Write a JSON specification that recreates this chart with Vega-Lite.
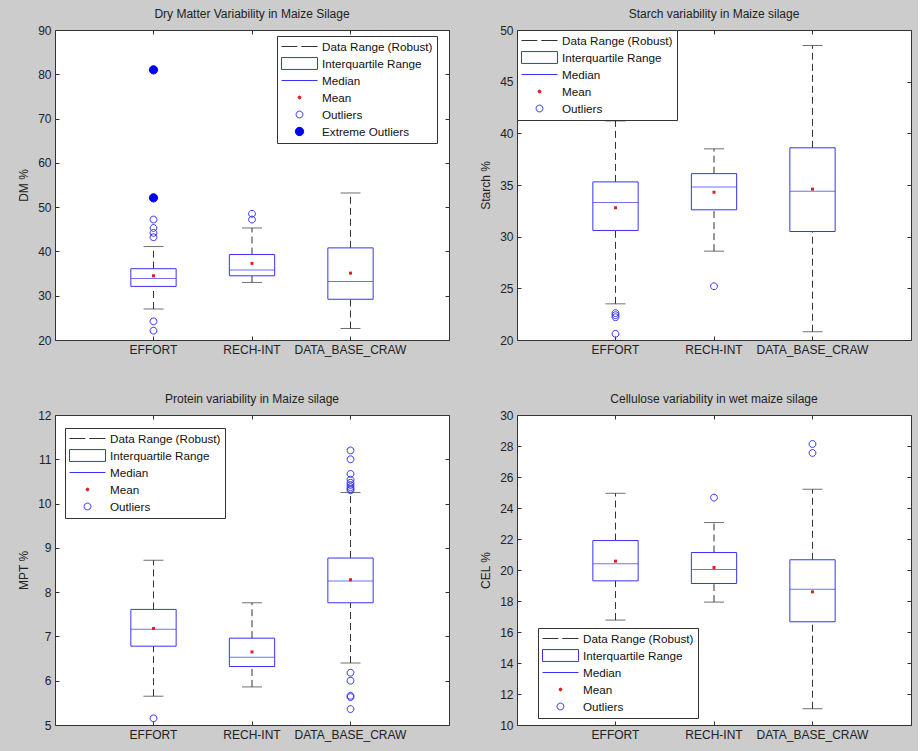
{
  "$schema": "https://vega.github.io/schema/vega-lite/v6.json",
  "background": "#cccccc",
  "padding": {"left": 17, "top": 7, "right": 6, "bottom": 12},
  "datasets": {
    "dm_stats": [
      {"group": "EFFORT", "lo": 27.0, "q1": 32.1, "med": 33.9, "q3": 36.1, "hi": 41.1, "mean": 34.5},
      {"group": "RECH-INT", "lo": 33.0, "q1": 34.5, "med": 35.8, "q3": 39.3, "hi": 45.3, "mean": 37.3},
      {"group": "DATA_BASE_CRAW", "lo": 22.6, "q1": 29.2, "med": 33.2, "q3": 40.8, "hi": 53.2, "mean": 35.1}
    ],
    "dm_out": [
      {"group": "EFFORT", "value": 47.2, "kind": "Outliers"},
      {"group": "EFFORT", "value": 45.3, "kind": "Outliers"},
      {"group": "EFFORT", "value": 44.2, "kind": "Outliers"},
      {"group": "EFFORT", "value": 43.2, "kind": "Outliers"},
      {"group": "EFFORT", "value": 24.2, "kind": "Outliers"},
      {"group": "EFFORT", "value": 22.1, "kind": "Outliers"},
      {"group": "EFFORT", "value": 52.1, "kind": "Extreme Outliers"},
      {"group": "EFFORT", "value": 81.0, "kind": "Extreme Outliers"},
      {"group": "RECH-INT", "value": 48.5, "kind": "Outliers"},
      {"group": "RECH-INT", "value": 47.2, "kind": "Outliers"}
    ],
    "st_stats": [
      {"group": "EFFORT", "lo": 23.5, "q1": 30.6, "med": 33.3, "q3": 35.3, "hi": 41.2, "mean": 32.8},
      {"group": "RECH-INT", "lo": 28.6, "q1": 32.6, "med": 34.8, "q3": 36.1, "hi": 38.5, "mean": 34.3},
      {"group": "DATA_BASE_CRAW", "lo": 20.8, "q1": 30.5, "med": 34.4, "q3": 38.6, "hi": 48.5, "mean": 34.6}
    ],
    "st_out": [
      {"group": "EFFORT", "value": 22.6, "kind": "Outliers"},
      {"group": "EFFORT", "value": 22.4, "kind": "Outliers"},
      {"group": "EFFORT", "value": 22.2, "kind": "Outliers"},
      {"group": "EFFORT", "value": 20.6, "kind": "Outliers"},
      {"group": "RECH-INT", "value": 25.2, "kind": "Outliers"}
    ],
    "mpt_stats": [
      {"group": "EFFORT", "lo": 5.65, "q1": 6.78, "med": 7.16, "q3": 7.61, "hi": 8.72, "mean": 7.18},
      {"group": "RECH-INT", "lo": 5.86, "q1": 6.32, "med": 6.53, "q3": 6.96, "hi": 7.76, "mean": 6.65},
      {"group": "DATA_BASE_CRAW", "lo": 6.40, "q1": 7.76, "med": 8.25, "q3": 8.77, "hi": 10.25, "mean": 8.28}
    ],
    "mpt_out": [
      {"group": "EFFORT", "value": 5.15, "kind": "Outliers"},
      {"group": "DATA_BASE_CRAW", "value": 11.2, "kind": "Outliers"},
      {"group": "DATA_BASE_CRAW", "value": 11.0, "kind": "Outliers"},
      {"group": "DATA_BASE_CRAW", "value": 10.67, "kind": "Outliers"},
      {"group": "DATA_BASE_CRAW", "value": 10.54, "kind": "Outliers"},
      {"group": "DATA_BASE_CRAW", "value": 10.47, "kind": "Outliers"},
      {"group": "DATA_BASE_CRAW", "value": 10.42, "kind": "Outliers"},
      {"group": "DATA_BASE_CRAW", "value": 10.37, "kind": "Outliers"},
      {"group": "DATA_BASE_CRAW", "value": 10.33, "kind": "Outliers"},
      {"group": "DATA_BASE_CRAW", "value": 10.3, "kind": "Outliers"},
      {"group": "DATA_BASE_CRAW", "value": 6.18, "kind": "Outliers"},
      {"group": "DATA_BASE_CRAW", "value": 6.0, "kind": "Outliers"},
      {"group": "DATA_BASE_CRAW", "value": 5.66, "kind": "Outliers"},
      {"group": "DATA_BASE_CRAW", "value": 5.63, "kind": "Outliers"},
      {"group": "DATA_BASE_CRAW", "value": 5.36, "kind": "Outliers"}
    ],
    "cel_stats": [
      {"group": "EFFORT", "lo": 16.77, "q1": 19.3, "med": 20.4, "q3": 21.9, "hi": 24.95, "mean": 20.57},
      {"group": "RECH-INT", "lo": 17.93, "q1": 19.13, "med": 20.03, "q3": 21.13, "hi": 23.06, "mean": 20.16},
      {"group": "DATA_BASE_CRAW", "lo": 11.05, "q1": 16.66, "med": 18.76, "q3": 20.66, "hi": 25.21, "mean": 18.59}
    ],
    "cel_out": [
      {"group": "RECH-INT", "value": 24.67, "kind": "Outliers"},
      {"group": "DATA_BASE_CRAW", "value": 28.13, "kind": "Outliers"},
      {"group": "DATA_BASE_CRAW", "value": 27.55, "kind": "Outliers"}
    ]
  },
  "vconcat": [
    {
      "hconcat": [
        {
          "width": 394, "height": 310,
          "title": "Dry Matter Variability in Maize Silage",
          "layer": [
            {"data": {"name": "dm_stats"}, "mark": {"type": "rule", "strokeDash": [7, 4], "color": "#333", "strokeWidth": 1},
             "encoding": {
               "x": {"field": "group", "type": "nominal", "sort": null, "scale": {"domain": ["EFFORT", "RECH-INT", "DATA_BASE_CRAW"], "paddingInner": 0.54, "paddingOuter": 0.77}, "axis": {"orient": "bottom", "title": null, "labelAngle": 0}},
               "y": {"field": "lo", "type": "quantitative", "scale": {"domain": [20, 90], "nice": false, "zero": false}, "axis": {"orient": "left", "title": "DM %", "values": [20, 30, 40, 50, 60, 70, 80, 90]}},
               "y2": {"field": "q1"}}},
            {"data": {"name": "dm_stats"}, "mark": {"type": "rule", "strokeDash": [7, 4], "color": "#333", "strokeWidth": 1},
             "encoding": {"x": {"field": "group", "type": "nominal", "sort": null, "axis": {"orient": "top", "title": null, "labels": false}}, "y": {"field": "q3", "type": "quantitative", "axis": {"orient": "right", "title": null, "labels": false, "values": [20, 30, 40, 50, 60, 70, 80, 90]}}, "y2": {"field": "hi"}}},
            {"data": {"name": "dm_stats"}, "mark": {"type": "tick", "color": "#333", "size": 20, "thickness": 1},
             "encoding": {"x": {"field": "group", "type": "nominal", "sort": null, "axis": null}, "y": {"field": "lo", "type": "quantitative", "axis": null}}},
            {"data": {"name": "dm_stats"}, "mark": {"type": "tick", "color": "#333", "size": 20, "thickness": 1},
             "encoding": {"x": {"field": "group", "type": "nominal", "sort": null, "axis": null}, "y": {"field": "hi", "type": "quantitative", "axis": null}}},
            {"data": {"name": "dm_stats"}, "mark": {"type": "bar", "fill": "white", "fillOpacity": 0, "stroke": "#3535f5", "strokeWidth": 1},
             "encoding": {"x": {"field": "group", "type": "nominal", "sort": null, "axis": null}, "y": {"field": "q1", "type": "quantitative", "axis": null}, "y2": {"field": "q3"}}},
            {"data": {"name": "dm_stats"}, "mark": {"type": "tick", "color": "#3535f5", "size": 45, "thickness": 1},
             "encoding": {"x": {"field": "group", "type": "nominal", "sort": null, "axis": null}, "y": {"field": "med", "type": "quantitative", "axis": null}}},
            {"data": {"name": "dm_stats"}, "mark": {"type": "point", "filled": true, "color": "#e02020", "size": 9, "shape": "square", "strokeWidth": 0, "opacity": 1},
             "encoding": {"x": {"field": "group", "type": "nominal", "sort": null, "axis": null}, "y": {"field": "mean", "type": "quantitative", "axis": null}}},
            {"data": {"name": "dm_out"}, "mark": {"type": "point", "filled": true, "size": 1296, "strokeWidth": 1, "opacity": 1},
             "encoding": {
               "x": {"field": "group", "type": "nominal", "sort": null, "axis": null},
               "y": {"field": "value", "type": "quantitative", "axis": null},
               "shape": {"field": "kind", "type": "nominal", "scale": {"domain": ["Data Range (Robust)", "Interquartile Range", "Median", "Mean", "Outliers", "Extreme Outliers"], "range": ["M-1,0L-0.12,0M0.1,0L1,0", "M-1,-0.33L1,-0.33L1,0.33L-1,0.33Z", "M-1,0L1,0", "M-0.08,0A0.08,0.08,0,1,0,0.08,0A0.08,0.08,0,1,0,-0.08,0Z", "M-0.19,0A0.19,0.19,0,1,0,0.19,0A0.19,0.19,0,1,0,-0.19,0Z", "M-0.23,0A0.23,0.23,0,1,0,0.23,0A0.23,0.23,0,1,0,-0.23,0Z"]}, "legend": {"legendX": 222, "legendY": 6}},
               "fill": {"field": "kind", "type": "nominal", "scale": {"domain": ["Data Range (Robust)", "Interquartile Range", "Median", "Mean", "Outliers", "Extreme Outliers"], "range": ["transparent", "transparent", "transparent", "#e02020", "transparent", "#0000f0"]}, "legend": {"legendX": 222, "legendY": 6}},
               "stroke": {"field": "kind", "type": "nominal", "scale": {"domain": ["Data Range (Robust)", "Interquartile Range", "Median", "Mean", "Outliers", "Extreme Outliers"], "range": ["#333333", "#3535f5", "#3535f5", "#e02020", "#3535f5", "#0000f0"]}, "legend": {"legendX": 222, "legendY": 6}}
             }}
          ]
        },
        {
          "width": 394, "height": 310,
          "title": "Starch variability in Maize silage",
          "layer": [
            {"data": {"name": "st_stats"}, "mark": {"type": "rule", "strokeDash": [7, 4], "color": "#333", "strokeWidth": 1},
             "encoding": {
               "x": {"field": "group", "type": "nominal", "sort": null, "scale": {"domain": ["EFFORT", "RECH-INT", "DATA_BASE_CRAW"], "paddingInner": 0.54, "paddingOuter": 0.77}, "axis": {"orient": "bottom", "title": null, "labelAngle": 0}},
               "y": {"field": "lo", "type": "quantitative", "scale": {"domain": [20, 50], "nice": false, "zero": false}, "axis": {"orient": "left", "title": "Starch %", "values": [20, 25, 30, 35, 40, 45, 50]}},
               "y2": {"field": "q1"}}},
            {"data": {"name": "st_stats"}, "mark": {"type": "rule", "strokeDash": [7, 4], "color": "#333", "strokeWidth": 1},
             "encoding": {"x": {"field": "group", "type": "nominal", "sort": null, "axis": {"orient": "top", "title": null, "labels": false}}, "y": {"field": "q3", "type": "quantitative", "axis": {"orient": "right", "title": null, "labels": false, "values": [20, 25, 30, 35, 40, 45, 50]}}, "y2": {"field": "hi"}}},
            {"data": {"name": "st_stats"}, "mark": {"type": "tick", "color": "#333", "size": 20, "thickness": 1},
             "encoding": {"x": {"field": "group", "type": "nominal", "sort": null, "axis": null}, "y": {"field": "lo", "type": "quantitative", "axis": null}}},
            {"data": {"name": "st_stats"}, "mark": {"type": "tick", "color": "#333", "size": 20, "thickness": 1},
             "encoding": {"x": {"field": "group", "type": "nominal", "sort": null, "axis": null}, "y": {"field": "hi", "type": "quantitative", "axis": null}}},
            {"data": {"name": "st_stats"}, "mark": {"type": "bar", "fill": "white", "fillOpacity": 0, "stroke": "#3535f5", "strokeWidth": 1},
             "encoding": {"x": {"field": "group", "type": "nominal", "sort": null, "axis": null}, "y": {"field": "q1", "type": "quantitative", "axis": null}, "y2": {"field": "q3"}}},
            {"data": {"name": "st_stats"}, "mark": {"type": "tick", "color": "#3535f5", "size": 45, "thickness": 1},
             "encoding": {"x": {"field": "group", "type": "nominal", "sort": null, "axis": null}, "y": {"field": "med", "type": "quantitative", "axis": null}}},
            {"data": {"name": "st_stats"}, "mark": {"type": "point", "filled": true, "color": "#e02020", "size": 9, "shape": "square", "strokeWidth": 0, "opacity": 1},
             "encoding": {"x": {"field": "group", "type": "nominal", "sort": null, "axis": null}, "y": {"field": "mean", "type": "quantitative", "axis": null}}},
            {"data": {"name": "st_out"}, "mark": {"type": "point", "filled": true, "size": 1296, "strokeWidth": 1, "opacity": 1},
             "encoding": {
               "x": {"field": "group", "type": "nominal", "sort": null, "axis": null},
               "y": {"field": "value", "type": "quantitative", "axis": null},
               "shape": {"field": "kind", "type": "nominal", "scale": {"domain": ["Data Range (Robust)", "Interquartile Range", "Median", "Mean", "Outliers"], "range": ["M-1,0L-0.12,0M0.1,0L1,0", "M-1,-0.33L1,-0.33L1,0.33L-1,0.33Z", "M-1,0L1,0", "M-0.08,0A0.08,0.08,0,1,0,0.08,0A0.08,0.08,0,1,0,-0.08,0Z", "M-0.19,0A0.19,0.19,0,1,0,0.19,0A0.19,0.19,0,1,0,-0.19,0Z"]}, "legend": {"legendX": 0, "legendY": 0}},
               "fill": {"field": "kind", "type": "nominal", "scale": {"domain": ["Data Range (Robust)", "Interquartile Range", "Median", "Mean", "Outliers"], "range": ["transparent", "transparent", "transparent", "#e02020", "transparent"]}, "legend": {"legendX": 0, "legendY": 0}},
               "stroke": {"field": "kind", "type": "nominal", "scale": {"domain": ["Data Range (Robust)", "Interquartile Range", "Median", "Mean", "Outliers"], "range": ["#333333", "#3535f5", "#3535f5", "#e02020", "#3535f5"]}, "legend": {"legendX": 0, "legendY": 0}}
             }}
          ]
        }
      ],
      "spacing": 29,
      "resolve": {"scale": {"shape": "independent", "fill": "independent", "stroke": "independent"}}
    },
    {
      "hconcat": [
        {
          "width": 394, "height": 310,
          "title": "Protein variability in Maize silage",
          "layer": [
            {"data": {"name": "mpt_stats"}, "mark": {"type": "rule", "strokeDash": [7, 4], "color": "#333", "strokeWidth": 1},
             "encoding": {
               "x": {"field": "group", "type": "nominal", "sort": null, "scale": {"domain": ["EFFORT", "RECH-INT", "DATA_BASE_CRAW"], "paddingInner": 0.54, "paddingOuter": 0.77}, "axis": {"orient": "bottom", "title": null, "labelAngle": 0}},
               "y": {"field": "lo", "type": "quantitative", "scale": {"domain": [5, 12], "nice": false, "zero": false}, "axis": {"orient": "left", "title": "MPT %", "values": [5, 6, 7, 8, 9, 10, 11, 12]}},
               "y2": {"field": "q1"}}},
            {"data": {"name": "mpt_stats"}, "mark": {"type": "rule", "strokeDash": [7, 4], "color": "#333", "strokeWidth": 1},
             "encoding": {"x": {"field": "group", "type": "nominal", "sort": null, "axis": {"orient": "top", "title": null, "labels": false}}, "y": {"field": "q3", "type": "quantitative", "axis": {"orient": "right", "title": null, "labels": false, "values": [5, 6, 7, 8, 9, 10, 11, 12]}}, "y2": {"field": "hi"}}},
            {"data": {"name": "mpt_stats"}, "mark": {"type": "tick", "color": "#333", "size": 20, "thickness": 1},
             "encoding": {"x": {"field": "group", "type": "nominal", "sort": null, "axis": null}, "y": {"field": "lo", "type": "quantitative", "axis": null}}},
            {"data": {"name": "mpt_stats"}, "mark": {"type": "tick", "color": "#333", "size": 20, "thickness": 1},
             "encoding": {"x": {"field": "group", "type": "nominal", "sort": null, "axis": null}, "y": {"field": "hi", "type": "quantitative", "axis": null}}},
            {"data": {"name": "mpt_stats"}, "mark": {"type": "bar", "fill": "white", "fillOpacity": 0, "stroke": "#3535f5", "strokeWidth": 1},
             "encoding": {"x": {"field": "group", "type": "nominal", "sort": null, "axis": null}, "y": {"field": "q1", "type": "quantitative", "axis": null}, "y2": {"field": "q3"}}},
            {"data": {"name": "mpt_stats"}, "mark": {"type": "tick", "color": "#3535f5", "size": 45, "thickness": 1},
             "encoding": {"x": {"field": "group", "type": "nominal", "sort": null, "axis": null}, "y": {"field": "med", "type": "quantitative", "axis": null}}},
            {"data": {"name": "mpt_stats"}, "mark": {"type": "point", "filled": true, "color": "#e02020", "size": 9, "shape": "square", "strokeWidth": 0, "opacity": 1},
             "encoding": {"x": {"field": "group", "type": "nominal", "sort": null, "axis": null}, "y": {"field": "mean", "type": "quantitative", "axis": null}}},
            {"data": {"name": "mpt_out"}, "mark": {"type": "point", "filled": true, "size": 1296, "strokeWidth": 1, "opacity": 1},
             "encoding": {
               "x": {"field": "group", "type": "nominal", "sort": null, "axis": null},
               "y": {"field": "value", "type": "quantitative", "axis": null},
               "shape": {"field": "kind", "type": "nominal", "scale": {"domain": ["Data Range (Robust)", "Interquartile Range", "Median", "Mean", "Outliers"], "range": ["M-1,0L-0.12,0M0.1,0L1,0", "M-1,-0.33L1,-0.33L1,0.33L-1,0.33Z", "M-1,0L1,0", "M-0.08,0A0.08,0.08,0,1,0,0.08,0A0.08,0.08,0,1,0,-0.08,0Z", "M-0.19,0A0.19,0.19,0,1,0,0.19,0A0.19,0.19,0,1,0,-0.19,0Z"]}, "legend": {"legendX": 10, "legendY": 13}},
               "fill": {"field": "kind", "type": "nominal", "scale": {"domain": ["Data Range (Robust)", "Interquartile Range", "Median", "Mean", "Outliers"], "range": ["transparent", "transparent", "transparent", "#e02020", "transparent"]}, "legend": {"legendX": 10, "legendY": 13}},
               "stroke": {"field": "kind", "type": "nominal", "scale": {"domain": ["Data Range (Robust)", "Interquartile Range", "Median", "Mean", "Outliers"], "range": ["#333333", "#3535f5", "#3535f5", "#e02020", "#3535f5"]}, "legend": {"legendX": 10, "legendY": 13}}
             }}
          ]
        },
        {
          "width": 394, "height": 310,
          "title": "Cellulose variability in wet maize silage",
          "layer": [
            {"data": {"name": "cel_stats"}, "mark": {"type": "rule", "strokeDash": [7, 4], "color": "#333", "strokeWidth": 1},
             "encoding": {
               "x": {"field": "group", "type": "nominal", "sort": null, "scale": {"domain": ["EFFORT", "RECH-INT", "DATA_BASE_CRAW"], "paddingInner": 0.54, "paddingOuter": 0.77}, "axis": {"orient": "bottom", "title": null, "labelAngle": 0}},
               "y": {"field": "lo", "type": "quantitative", "scale": {"domain": [10, 30], "nice": false, "zero": false}, "axis": {"orient": "left", "title": "CEL %", "values": [10, 12, 14, 16, 18, 20, 22, 24, 26, 28, 30]}},
               "y2": {"field": "q1"}}},
            {"data": {"name": "cel_stats"}, "mark": {"type": "rule", "strokeDash": [7, 4], "color": "#333", "strokeWidth": 1},
             "encoding": {"x": {"field": "group", "type": "nominal", "sort": null, "axis": {"orient": "top", "title": null, "labels": false}}, "y": {"field": "q3", "type": "quantitative", "axis": {"orient": "right", "title": null, "labels": false, "values": [10, 12, 14, 16, 18, 20, 22, 24, 26, 28, 30]}}, "y2": {"field": "hi"}}},
            {"data": {"name": "cel_stats"}, "mark": {"type": "tick", "color": "#333", "size": 20, "thickness": 1},
             "encoding": {"x": {"field": "group", "type": "nominal", "sort": null, "axis": null}, "y": {"field": "lo", "type": "quantitative", "axis": null}}},
            {"data": {"name": "cel_stats"}, "mark": {"type": "tick", "color": "#333", "size": 20, "thickness": 1},
             "encoding": {"x": {"field": "group", "type": "nominal", "sort": null, "axis": null}, "y": {"field": "hi", "type": "quantitative", "axis": null}}},
            {"data": {"name": "cel_stats"}, "mark": {"type": "bar", "fill": "white", "fillOpacity": 0, "stroke": "#3535f5", "strokeWidth": 1},
             "encoding": {"x": {"field": "group", "type": "nominal", "sort": null, "axis": null}, "y": {"field": "q1", "type": "quantitative", "axis": null}, "y2": {"field": "q3"}}},
            {"data": {"name": "cel_stats"}, "mark": {"type": "tick", "color": "#3535f5", "size": 45, "thickness": 1},
             "encoding": {"x": {"field": "group", "type": "nominal", "sort": null, "axis": null}, "y": {"field": "med", "type": "quantitative", "axis": null}}},
            {"data": {"name": "cel_stats"}, "mark": {"type": "point", "filled": true, "color": "#e02020", "size": 9, "shape": "square", "strokeWidth": 0, "opacity": 1},
             "encoding": {"x": {"field": "group", "type": "nominal", "sort": null, "axis": null}, "y": {"field": "mean", "type": "quantitative", "axis": null}}},
            {"data": {"name": "cel_out"}, "mark": {"type": "point", "filled": true, "size": 1296, "strokeWidth": 1, "opacity": 1},
             "encoding": {
               "x": {"field": "group", "type": "nominal", "sort": null, "axis": null},
               "y": {"field": "value", "type": "quantitative", "axis": null},
               "shape": {"field": "kind", "type": "nominal", "scale": {"domain": ["Data Range (Robust)", "Interquartile Range", "Median", "Mean", "Outliers"], "range": ["M-1,0L-0.12,0M0.1,0L1,0", "M-1,-0.33L1,-0.33L1,0.33L-1,0.33Z", "M-1,0L1,0", "M-0.08,0A0.08,0.08,0,1,0,0.08,0A0.08,0.08,0,1,0,-0.08,0Z", "M-0.19,0A0.19,0.19,0,1,0,0.19,0A0.19,0.19,0,1,0,-0.19,0Z"]}, "legend": {"legendX": 21, "legendY": 213}},
               "fill": {"field": "kind", "type": "nominal", "scale": {"domain": ["Data Range (Robust)", "Interquartile Range", "Median", "Mean", "Outliers"], "range": ["transparent", "transparent", "transparent", "#e02020", "transparent"]}, "legend": {"legendX": 21, "legendY": 213}},
               "stroke": {"field": "kind", "type": "nominal", "scale": {"domain": ["Data Range (Robust)", "Interquartile Range", "Median", "Mean", "Outliers"], "range": ["#333333", "#3535f5", "#3535f5", "#e02020", "#3535f5"]}, "legend": {"legendX": 21, "legendY": 213}}
             }}
          ]
        }
      ],
      "spacing": 29,
      "resolve": {"scale": {"shape": "independent", "fill": "independent", "stroke": "independent"}}
    }
  ],
  "spacing": 36,
  "resolve": {"scale": {"shape": "independent", "fill": "independent", "stroke": "independent"}},
  "config": {
    "font": "Liberation Sans",
    "view": {"stroke": "#333333", "strokeWidth": 1, "fill": "white"},
    "title": {"fontSize": 12, "fontWeight": "normal", "color": "#222222", "offset": 3, "font": "Liberation Sans"},
    "axis": {"labelFont": "Liberation Sans", "labelFontSize": 12, "labelColor": "#222222", "titleFont": "Liberation Sans", "titleFontSize": 12, "titleFontWeight": "normal", "titleColor": "#222222", "titlePadding": 7, "domain": false, "grid": false, "tickColor": "#333333", "tickSize": -4, "labelPadding": 8},
    "legend": {"orient": "none", "title": null, "padding": 4, "strokeColor": "#333333", "fillColor": "white", "labelFont": "Liberation Sans", "labelFontSize": 11.7, "labelColor": "#111111", "symbolSize": 1296, "symbolStrokeWidth": 1, "rowPadding": 3, "clipHeight": 13, "labelOffset": 4, "cornerRadius": 0, "labelLimit": 300}
  }
}
